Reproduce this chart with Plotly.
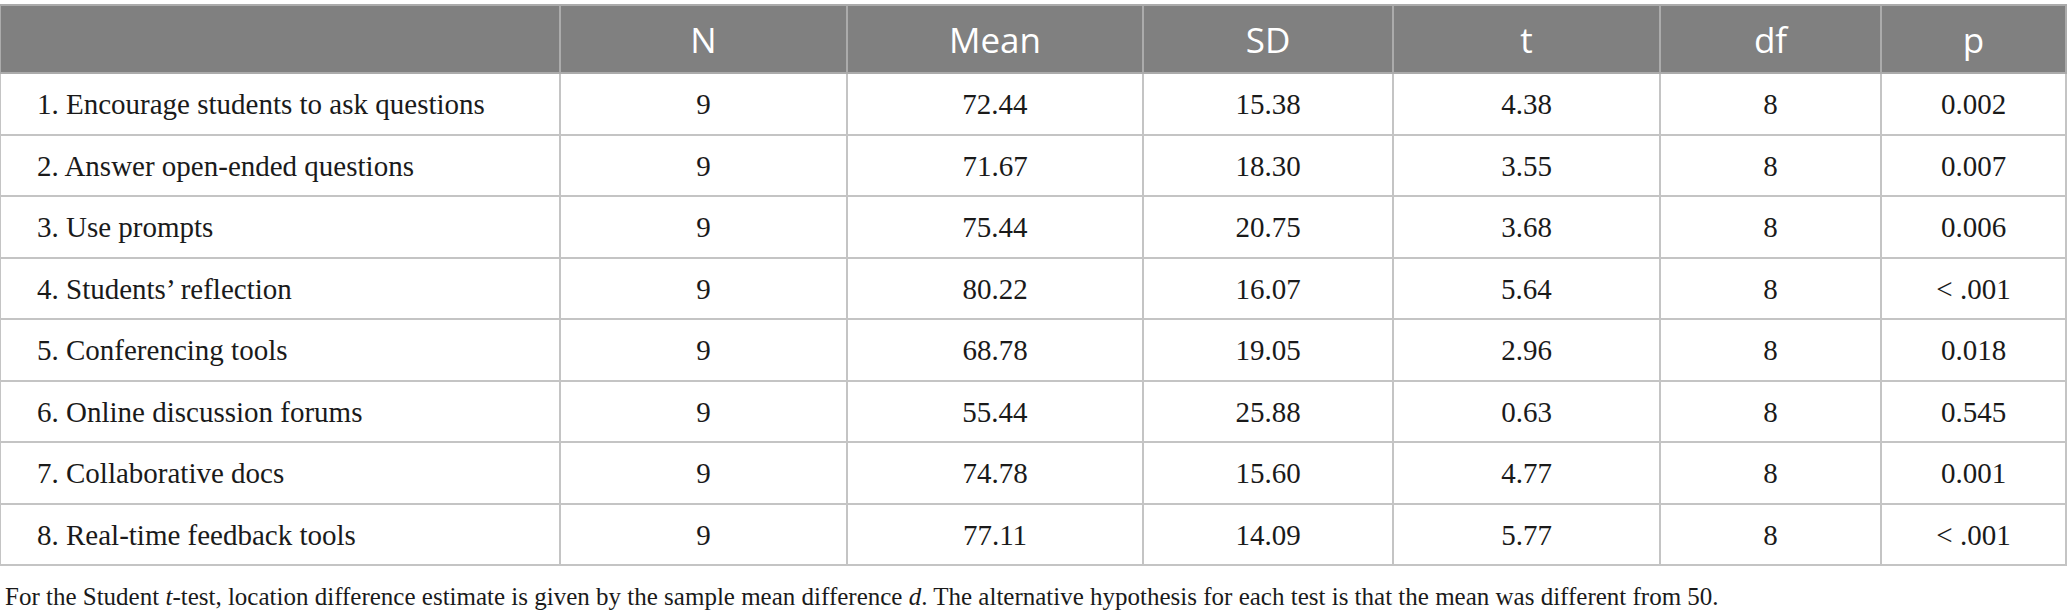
import plotly.graph_objects as go

# table contents
items = ["1. Encourage students to ask questions",
         "2. Answer open-ended questions",
         "3. Use prompts",
         "4. Students\u2019 reflection",
         "5. Conferencing tools",
         "6. Online discussion forums",
         "7. Collaborative docs",
         "8. Real-time feedback tools"]
n_vals = [9, 9, 9, 9, 9, 9, 9, 9]
mean_vals = ["72.44", "71.67", "75.44", "80.22", "68.78", "55.44", "74.78", "77.11"]
sd_vals = ["15.38", "18.30", "20.75", "16.07", "19.05", "25.88", "15.60", "14.09"]
t_vals = ["4.38", "3.55", "3.68", "5.64", "2.96", "0.63", "4.77", "5.77"]
df_vals = [8, 8, 8, 8, 8, 8, 8, 8]
p_vals = ["0.002", "0.007", "0.006", "< .001", "0.018", "0.545", "0.001", "< .001"]
headers = ["", "N", "Mean", "SD", "t", "df", "p"]

footnote = ("For the Student <i>t</i>-test, location difference estimate is given by the sample mean "
            "difference <i>d</i>. The alternative hypothesis for each test is that the mean was "
            "different from 50.")

W, H = 2067, 616
col_w = [560, 287, 296, 250, 267, 221, 185]
head_h = 68
row_h = 61.5
top = 5          # px from the top of the page to the header
head_drop = 14   # plotly puts cell text at the top, push it to the middle
text_head_h = 61 # header height of the text layer (sets where body text lands)

columns = [items, n_vals, mean_vals, sd_vals, t_vals, df_vals, p_vals]
n_rows = len(items)

# every cell goes through plotly's markup path, so "< .001" lines up with the rest
def as_markup(v):
    return "<span>" + str(v).replace("<", "&lt;") + "</span>"

cell_text = [[as_markup(v) for v in col] for col in columns]

fig = go.Figure()

# grid + fills only
fig.add_trace(go.Table(
    domain=dict(x=[0, sum(col_w) / W], y=[0, 1 - top / H]),
    columnwidth=col_w,
    header=dict(values=[""] * len(headers),
                fill_color="#808080",
                line=dict(color="#ababab", width=2),
                height=head_h),
    cells=dict(values=[[""] * n_rows for _ in headers],
               fill_color="white",
               line=dict(color="#c4c4c4", width=2),
               height=row_h),
))

# the text, a little lower so it sits in the middle of each cell
fig.add_trace(go.Table(
    domain=dict(x=[0, sum(col_w) / W], y=[0, 1 - (top + head_drop) / H]),
    columnwidth=col_w,
    header=dict(values=headers,
                fill_color="rgba(0,0,0,0)",
                line=dict(color="rgba(0,0,0,0)", width=0),
                font=dict(family="Open Sans", size=35, color="white"),
                align="center",
                height=text_head_h),
    cells=dict(values=cell_text,
               fill_color="rgba(0,0,0,0)",
               line=dict(color="rgba(0,0,0,0)", width=0),
               font=dict(family="Liberation Serif", size=29, color="#1a1a1a"),
               align=["left"] + ["center"] * 6,
               prefix=["\u00a0\u00a0"] + [""] * 6,
               height=row_h),
))

fig.add_annotation(text=footnote, x=0, y=1 - 596 / H, xref="paper", yref="paper",
                   xshift=3, showarrow=False, xanchor="left", yanchor="middle",
                   font=dict(family="Liberation Serif", size=25, color="#1a1a1a"))

fig.update_layout(width=W, height=H,
                  margin=dict(l=0, r=0, t=0, b=0),
                  paper_bgcolor="white",
                  plot_bgcolor="white")

# drop the browser's default 8px body margin
fig.write_html("out.html",
               config={"displayModeBar": False},
               post_script="document.body.style.margin='0';"
                           "document.body.style.overflow='hidden';")
